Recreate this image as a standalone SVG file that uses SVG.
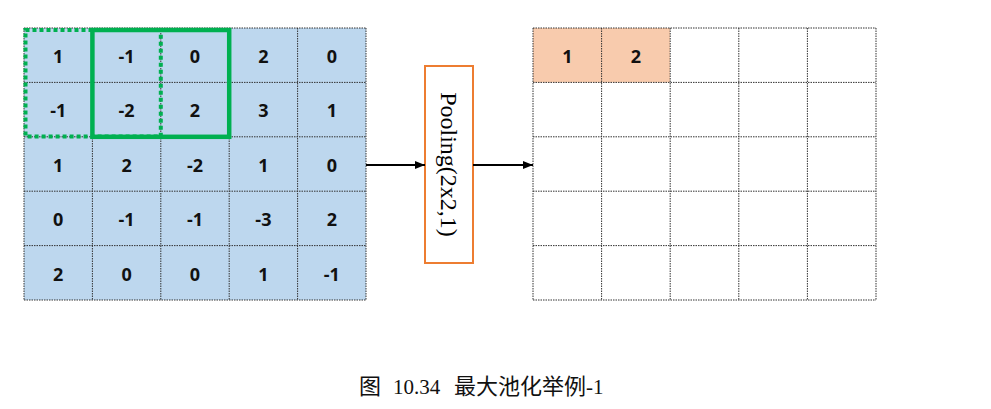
<svg xmlns="http://www.w3.org/2000/svg" width="991" height="409" viewBox="0 0 991 409">
<defs>
<style>
.grid{stroke:#333;stroke-width:1;stroke-dasharray:1.5 1;fill:none}
.num{font-family:"Open Sans","Liberation Sans",sans-serif;font-weight:bold;font-size:18px;fill:#111;text-anchor:middle;dominant-baseline:central}
.conn{stroke:#000;stroke-width:2;fill:none}
.cap{font-family:'Liberation Serif','Noto Sans CJK SC',serif;font-size:21px;fill:#111}
</style>
<marker id="ah" viewBox="0 0 10 10" refX="10" refY="5" markerWidth="10" markerHeight="10" markerUnits="userSpaceOnUse" orient="auto">
<path d="M0,1 L10,5 L0,9 z" fill="#000"/>
</marker>
</defs>
<rect width="991" height="409" fill="#fff"/>
<g id="input-grid">
<rect x="24" y="28" width="342" height="272" fill="#BDD7EE"/>
<path class="grid" d="M24,28H366M24,82.4H366M24,136.8H366M24,191.2H366M24,245.6H366M24,300H366M24,28V300M92.4,28V300M160.8,28V300M229.2,28V300M297.6,28V300M366,28V300"/>
<g class="num">
<text x="58.2" y="56">1</text><text x="126.6" y="56">-1</text><text x="195" y="56">0</text><text x="263.4" y="56">2</text><text x="331.8" y="56">0</text>
<text x="58.2" y="110.4">-1</text><text x="126.6" y="110.4">-2</text><text x="195" y="110.4">2</text><text x="263.4" y="110.4">3</text><text x="331.8" y="110.4">1</text>
<text x="58.2" y="164.8">1</text><text x="126.6" y="164.8">2</text><text x="195" y="164.8">-2</text><text x="263.4" y="164.8">1</text><text x="331.8" y="164.8">0</text>
<text x="58.2" y="219.2">0</text><text x="126.6" y="219.2">-1</text><text x="195" y="219.2">-1</text><text x="263.4" y="219.2">-3</text><text x="331.8" y="219.2">2</text>
<text x="58.2" y="273.6">2</text><text x="126.6" y="273.6">0</text><text x="195" y="273.6">0</text><text x="263.4" y="273.6">1</text><text x="331.8" y="273.6">-1</text>
</g>
<rect x="25.5" y="30" width="135.3" height="106.5" fill="none" stroke="#00B050" stroke-width="4" stroke-dasharray="4 3"/>
<rect x="92.4" y="30" width="136.8" height="106.8" fill="none" stroke="#00B050" stroke-width="4.5"/>
</g>
<g id="pooling">
<rect x="425" y="66" width="48" height="197" fill="#fff" stroke="#ED7D31" stroke-width="2"/>
<text x="449" y="164.5" transform="rotate(90 449 164.5)" font-family="'Liberation Serif',serif" font-size="24" fill="#000" text-anchor="middle" dominant-baseline="central">Pooling(2x2,1)</text>
</g>
<g id="output-grid">
<rect x="533" y="28" width="137" height="54.4" fill="#F8CBAD"/>
<path class="grid" d="M533,28H876M533,82.4H876M533,136.8H876M533,191.2H876M533,245.6H876M533,300H876M533,28V300M601.6,28V300M670.2,28V300M738.8,28V300M807.4,28V300M876,28V300"/>
<g class="num">
<text x="567.3" y="56">1</text><text x="635.9" y="56">2</text>
</g>
</g>
<g id="connectors">
<line class="conn" x1="366" y1="165" x2="425" y2="165" marker-end="url(#ah)"/>
<line class="conn" x1="473" y1="165" x2="533" y2="165" marker-end="url(#ah)"/>
</g>
<text class="cap" y="394"><tspan x="359" font-size="22">图</tspan><tspan x="393">10.34</tspan><tspan x="454" font-size="22">最大池化举例</tspan><tspan>-1</tspan></text>
</svg>
